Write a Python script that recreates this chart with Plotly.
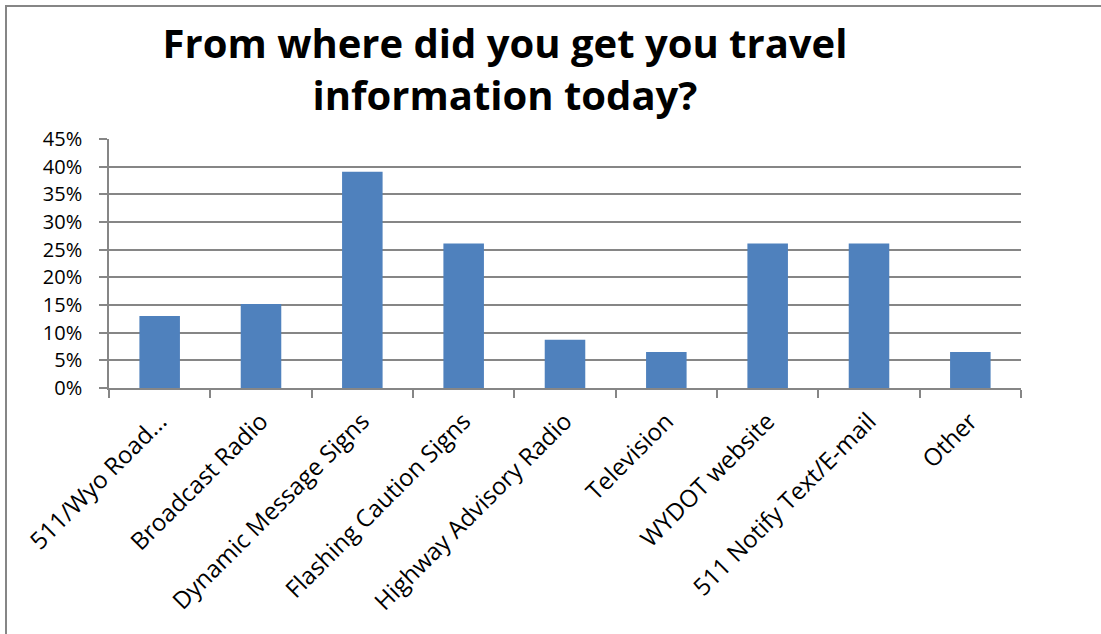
import plotly.graph_objects as go

# Survey responses: share of respondents per information source
categories = [
    "511/Wyo Road...",
    "Broadcast Radio",
    "Dynamic Message Signs",
    "Flashing Caution Signs",
    "Highway Advisory Radio",
    "Television",
    "WYDOT website",
    "511 Notify Text/E-mail",
    "Other",
]
shares = [0.130, 0.152, 0.391, 0.261, 0.087, 0.065, 0.261, 0.261, 0.065]

y_ticks = [0, 0.05, 0.10, 0.15, 0.20, 0.25, 0.30, 0.35, 0.40, 0.45]

title_text = "From where did you get you travel<br>information today?"

W, H = 1101, 634
M_L, M_R, M_T, M_B = 109, 80, 139, 246
GRAY = "#868686"
FONT = "Open Sans"

fig = go.Figure(
    go.Bar(
        x=categories,
        y=shares,
        marker=dict(color="#4F81BD", line=dict(width=0)),
        hoverinfo="skip",
    )
)

# outer chart frame (top and left edges)
plot_w = W - M_L - M_R
plot_h = H - M_T - M_B


def px_to_paper_x(px):
    return (px - M_L) / plot_w


def px_to_paper_y(py):
    return (H - M_B - py) / plot_h


frame = dict(color=GRAY, width=2)
fig.add_shape(type="line", xref="paper", yref="paper",
              x0=px_to_paper_x(6), x1=px_to_paper_x(6),
              y0=px_to_paper_y(5), y1=px_to_paper_y(H + 5), line=frame)
fig.add_shape(type="line", xref="paper", yref="paper",
              x0=px_to_paper_x(5), x1=px_to_paper_x(W + 5),
              y0=px_to_paper_y(6), y1=px_to_paper_y(6), line=frame)

fig.update_layout(
    width=W,
    height=H,
    margin=dict(l=M_L, r=M_R, t=M_T, b=M_B, pad=0),
    paper_bgcolor="white",
    plot_bgcolor="white",
    bargap=0.6,
    showlegend=False,
    title=dict(
        text=title_text,
        font=dict(family=FONT, size=40, color="black", weight="bold"),
        x=505 / W,
        xanchor="center",
        xref="container",
        y=1 - 58 / H,
        yanchor="middle",
        yref="container",
    ),
    font=dict(family=FONT, color="black"),
)

fig.update_xaxes(
    type="category",
    tickangle=-45,
    tickfont=dict(family=FONT, size=24, color="black"),
    showline=True,
    linecolor=GRAY,
    linewidth=1.5,
    ticks="outside",
    tickson="boundaries",
    ticklen=8,
    tickcolor=GRAY,
    tickwidth=1.5,
    showgrid=False,
    ticklabelstandoff=8,
)

fig.update_yaxes(
    range=[0, 0.45],
    tickvals=y_ticks,
    tickformat=".0%",
    tickfont=dict(family=FONT, size=20, color="black"),
    showline=True,
    linecolor=GRAY,
    linewidth=1.5,
    ticks="outside",
    ticklen=8,
    tickcolor=GRAY,
    tickwidth=1.5,
    showgrid=True,
    gridcolor=GRAY,
    gridwidth=1.5,
    zeroline=False,
    ticklabelstandoff=13,
)

fig.write_html("out.html")
